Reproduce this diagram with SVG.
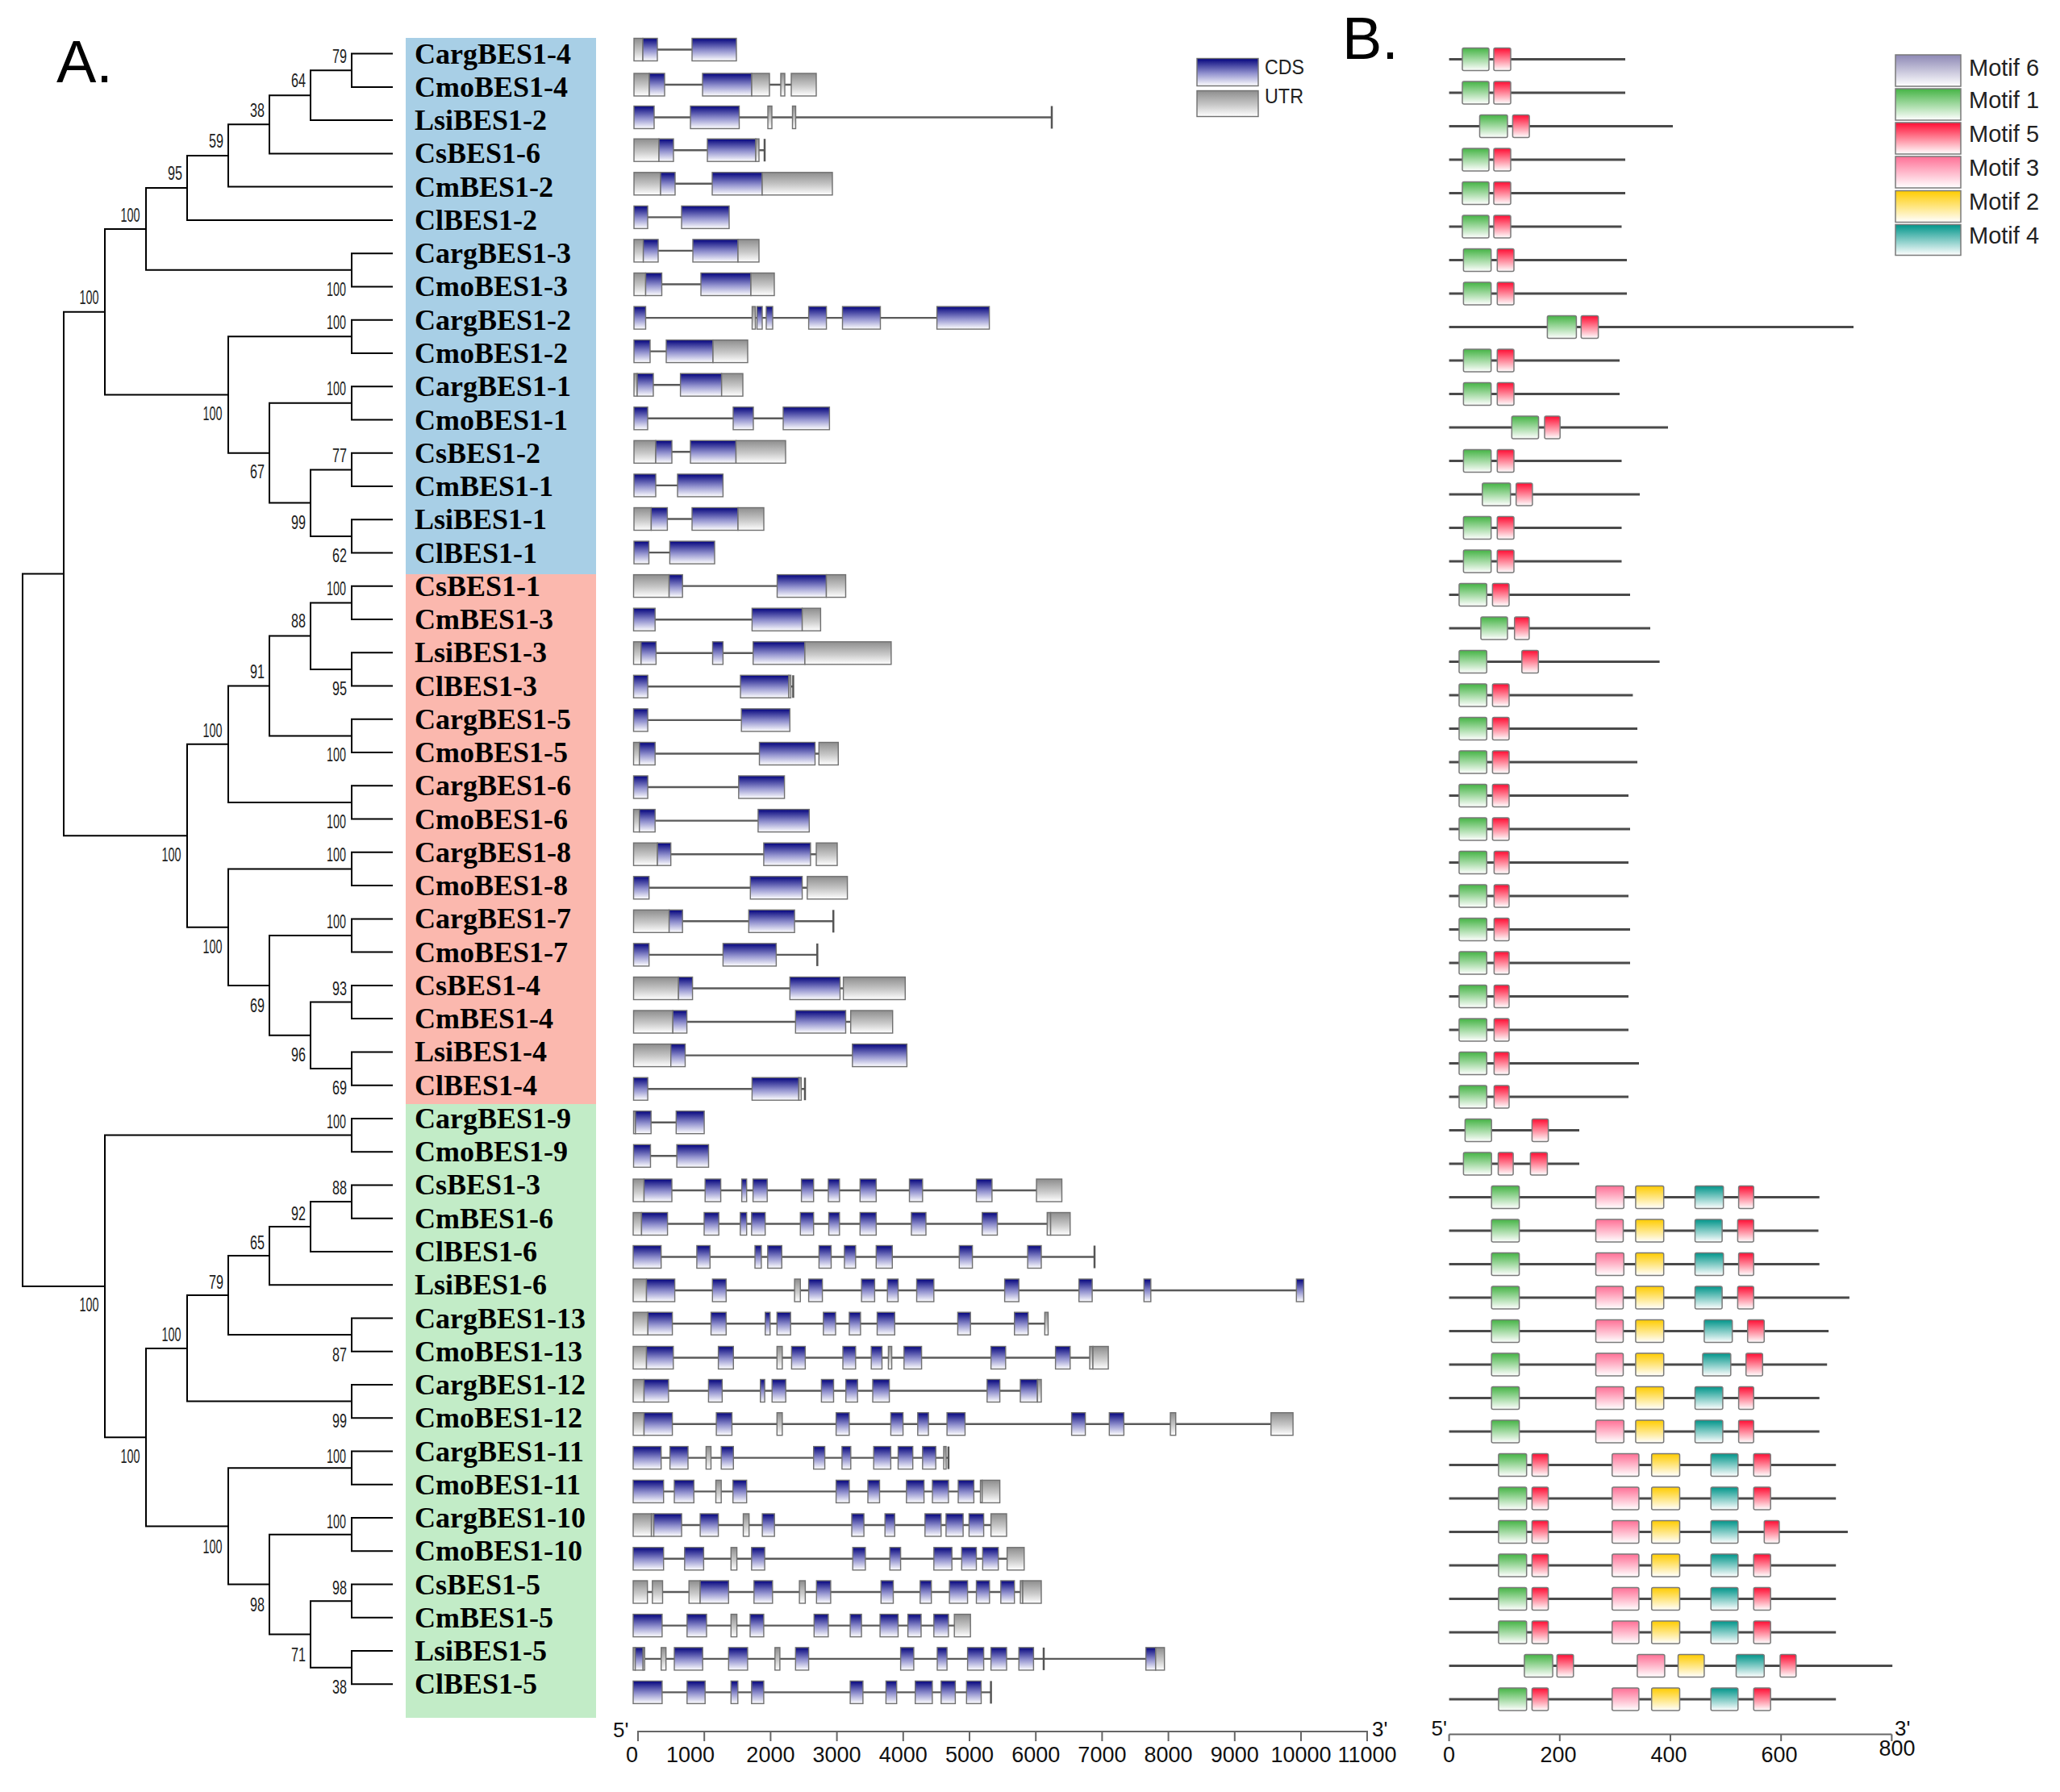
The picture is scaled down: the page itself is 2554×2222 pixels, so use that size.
<svg xmlns="http://www.w3.org/2000/svg" width="2554" height="2222" viewBox="0 0 2554 2222">
<defs>
<linearGradient id="gc" x1="0" y1="0" x2="0" y2="1"><stop offset="0" stop-color="#00007e"/><stop offset="0.12" stop-color="#24248f"/><stop offset="0.55" stop-color="#9393cf"/><stop offset="1" stop-color="#ffffff"/></linearGradient>
<linearGradient id="gu" x1="0" y1="0" x2="0" y2="1"><stop offset="0" stop-color="#8e8e8e"/><stop offset="0.55" stop-color="#c8c8c8"/><stop offset="1" stop-color="#ffffff"/></linearGradient>
<linearGradient id="g6" x1="0" y1="0" x2="0" y2="1"><stop offset="0" stop-color="#8d88b5"/><stop offset="1" stop-color="#ffffff"/></linearGradient>
<linearGradient id="g1" x1="0" y1="0" x2="0" y2="1"><stop offset="0" stop-color="#45b445"/><stop offset="1" stop-color="#ffffff"/></linearGradient>
<linearGradient id="g5" x1="0" y1="0" x2="0" y2="1"><stop offset="0" stop-color="#ff0d33"/><stop offset="1" stop-color="#ffffff"/></linearGradient>
<linearGradient id="g3" x1="0" y1="0" x2="0" y2="1"><stop offset="0" stop-color="#ff7096"/><stop offset="1" stop-color="#ffffff"/></linearGradient>
<linearGradient id="g2" x1="0" y1="0" x2="0" y2="1"><stop offset="0" stop-color="#ffcc00"/><stop offset="1" stop-color="#ffffff"/></linearGradient>
<linearGradient id="g4" x1="0" y1="0" x2="0" y2="1"><stop offset="0" stop-color="#00958a"/><stop offset="1" stop-color="#ffffff"/></linearGradient>
<style>
.tl{font-family:"Liberation Serif","Times New Roman",serif;font-weight:bold;font-size:36px;fill:#000}
.bs{font-family:"Liberation Sans",Arial,sans-serif;font-size:23px;fill:#222;text-anchor:end}
.ax{font-family:"Liberation Sans",Arial,sans-serif;font-size:27px;fill:#111;text-anchor:middle}
.lg{font-family:"Liberation Sans",Arial,sans-serif;font-size:29px;fill:#222}
.pl{font-family:"Liberation Sans",Arial,sans-serif;font-size:74px;fill:#000}
.c{fill:url(#gc);stroke:#707070;stroke-width:1.4}
.u{fill:url(#gu);stroke:#707070;stroke-width:1.4}
.in{stroke:#5a5a5a;stroke-width:2.4}
.tk{stroke:#555;stroke-width:2.5}
.ml{stroke:#4a4a4a;stroke-width:3}
.m1{fill:url(#g1);stroke:#7a7a7a;stroke-width:1.5}
.m5{fill:url(#g5);stroke:#7a7a7a;stroke-width:1.5}
.m3{fill:url(#g3);stroke:#7a7a7a;stroke-width:1.5}
.m2{fill:url(#g2);stroke:#7a7a7a;stroke-width:1.5}
.m4{fill:url(#g4);stroke:#7a7a7a;stroke-width:1.5}
.m6{fill:url(#g6);stroke:#7a7a7a;stroke-width:1.5}
.axl{stroke:#666;stroke-width:2;fill:none}
</style>
</defs>
<rect width="2554" height="2222" fill="#fff"/>
<text class="pl" x="70" y="102">A.</text>
<text class="pl" x="1664" y="73">B.</text>

<g id="clade-backgrounds">
<rect x="503" y="47" width="236" height="665" fill="#a8cfe6"/>
<rect x="503" y="712" width="236" height="657" fill="#fbb8ae"/>
<rect x="503" y="1369" width="236" height="761" fill="#c2ecc7"/>
</g>

<g id="tree-connectors" fill="none" stroke="#000" stroke-width="2">
<path d="M487 66.6H436V107.9H487 M436 87.25H385V149.1H487 M385 118.2H334V190.4H487 M334 154.3H283V231.6H487 M283 193H232V272.9H487 M487 314.2H436V355.4H487 M232 232.9H181V334.8H436 M487 396.7H436V437.9H487 M487 479.2H436V520.5H487 M487 561.7H436V603H487 M487 644.2H436V685.5H487 M436 582.4H385V664.9H436 M436 499.8H334V623.6H385 M436 417.3H283V561.7H334 M181 283.9H130V489.5H283"/>
<path d="M487 726.8H436V768H487 M487 809.3H436V850.5H487 M436 747.4H385V829.9H436 M487 891.8H436V933.1H487 M385 788.6H334V912.4H436 M487 974.3H436V1015.6H487 M334 850.5H283V995H436 M487 1056.8H436V1098.1H487 M487 1139.4H436V1180.6H487 M487 1221.9H436V1263.1H487 M487 1304.4H436V1345.7H487 M436 1242.5H385V1325H436 M436 1160H334V1283.8H385 M436 1077.5H283V1221.9H334 M283 922.7H232V1149.7H283 M130 386.7H79V1036.2H232"/>
<path d="M487 1386.9H436V1428.2H487 M487 1469.4H436V1510.7H487 M436 1490.1H385V1552H487 M385 1521H334V1593.2H487 M487 1634.5H436V1675.7H487 M334 1557.1H283V1655.1H436 M487 1717H436V1758.3H487 M283 1606.1H232V1737.6H436 M487 1799.5H436V1840.8H487 M487 1882H436V1923.3H487 M487 1964.6H436V2005.8H487 M487 2047.1H436V2088.3H487 M436 1985.2H385V2067.7H436 M436 1902.7H334V2026.5H385 M436 1820.2H283V1964.6H334 M232 1671.9H181V1892.4H283 M436 1407.6H130V1782.2H181 M79 711.5H28V1594.9H130"/>
</g>

<g id="bootstrap">
<text class="bs" x="430" y="78" textLength="18" lengthAdjust="spacingAndGlyphs">79</text>
<text class="bs" x="379" y="108" textLength="18" lengthAdjust="spacingAndGlyphs">64</text>
<text class="bs" x="328" y="144.5" textLength="18" lengthAdjust="spacingAndGlyphs">38</text>
<text class="bs" x="277" y="183" textLength="18" lengthAdjust="spacingAndGlyphs">59</text>
<text class="bs" x="226" y="223" textLength="18" lengthAdjust="spacingAndGlyphs">95</text>
<text class="bs" x="173.5" y="275" textLength="24" lengthAdjust="spacingAndGlyphs">100</text>
<text class="bs" x="429" y="367" textLength="24" lengthAdjust="spacingAndGlyphs">100</text>
<text class="bs" x="122.5" y="377" textLength="24" lengthAdjust="spacingAndGlyphs">100</text>
<text class="bs" x="429" y="408" textLength="24" lengthAdjust="spacingAndGlyphs">100</text>
<text class="bs" x="275.5" y="521" textLength="24" lengthAdjust="spacingAndGlyphs">100</text>
<text class="bs" x="429" y="490" textLength="24" lengthAdjust="spacingAndGlyphs">100</text>
<text class="bs" x="430" y="573" textLength="18" lengthAdjust="spacingAndGlyphs">77</text>
<text class="bs" x="328" y="593" textLength="18" lengthAdjust="spacingAndGlyphs">67</text>
<text class="bs" x="379" y="656" textLength="18" lengthAdjust="spacingAndGlyphs">99</text>
<text class="bs" x="430" y="697" textLength="18" lengthAdjust="spacingAndGlyphs">62</text>
<text class="bs" x="429" y="737.5" textLength="24" lengthAdjust="spacingAndGlyphs">100</text>
<text class="bs" x="379" y="778" textLength="18" lengthAdjust="spacingAndGlyphs">88</text>
<text class="bs" x="430" y="861.5" textLength="18" lengthAdjust="spacingAndGlyphs">95</text>
<text class="bs" x="328" y="841" textLength="18" lengthAdjust="spacingAndGlyphs">91</text>
<text class="bs" x="429" y="944" textLength="24" lengthAdjust="spacingAndGlyphs">100</text>
<text class="bs" x="275.5" y="913.5" textLength="24" lengthAdjust="spacingAndGlyphs">100</text>
<text class="bs" x="429" y="1027" textLength="24" lengthAdjust="spacingAndGlyphs">100</text>
<text class="bs" x="429" y="1068" textLength="24" lengthAdjust="spacingAndGlyphs">100</text>
<text class="bs" x="429" y="1151" textLength="24" lengthAdjust="spacingAndGlyphs">100</text>
<text class="bs" x="430" y="1233.5" textLength="18" lengthAdjust="spacingAndGlyphs">93</text>
<text class="bs" x="430" y="1356.5" textLength="18" lengthAdjust="spacingAndGlyphs">69</text>
<text class="bs" x="379" y="1316" textLength="18" lengthAdjust="spacingAndGlyphs">96</text>
<text class="bs" x="328" y="1254.5" textLength="18" lengthAdjust="spacingAndGlyphs">69</text>
<text class="bs" x="275.5" y="1182" textLength="24" lengthAdjust="spacingAndGlyphs">100</text>
<text class="bs" x="224.5" y="1068" textLength="24" lengthAdjust="spacingAndGlyphs">100</text>
<text class="bs" x="429" y="1399" textLength="24" lengthAdjust="spacingAndGlyphs">100</text>
<text class="bs" x="430" y="1481" textLength="18" lengthAdjust="spacingAndGlyphs">88</text>
<text class="bs" x="379" y="1513" textLength="18" lengthAdjust="spacingAndGlyphs">92</text>
<text class="bs" x="328" y="1549" textLength="18" lengthAdjust="spacingAndGlyphs">65</text>
<text class="bs" x="430" y="1688" textLength="18" lengthAdjust="spacingAndGlyphs">87</text>
<text class="bs" x="277" y="1598" textLength="18" lengthAdjust="spacingAndGlyphs">79</text>
<text class="bs" x="430" y="1770" textLength="18" lengthAdjust="spacingAndGlyphs">99</text>
<text class="bs" x="224.5" y="1663" textLength="24" lengthAdjust="spacingAndGlyphs">100</text>
<text class="bs" x="429" y="1814" textLength="24" lengthAdjust="spacingAndGlyphs">100</text>
<text class="bs" x="429" y="1895" textLength="24" lengthAdjust="spacingAndGlyphs">100</text>
<text class="bs" x="430" y="1977" textLength="18" lengthAdjust="spacingAndGlyphs">98</text>
<text class="bs" x="430" y="2100" textLength="18" lengthAdjust="spacingAndGlyphs">38</text>
<text class="bs" x="379" y="2059.5" textLength="18" lengthAdjust="spacingAndGlyphs">71</text>
<text class="bs" x="328" y="1997.5" textLength="18" lengthAdjust="spacingAndGlyphs">98</text>
<text class="bs" x="275.5" y="1926" textLength="24" lengthAdjust="spacingAndGlyphs">100</text>
<text class="bs" x="173.5" y="1814" textLength="24" lengthAdjust="spacingAndGlyphs">100</text>
<text class="bs" x="122.5" y="1626" textLength="24" lengthAdjust="spacingAndGlyphs">100</text>
</g>

<g id="labels">
<g id="label-CargBES1-4"><text class="tl" x="514" y="78.6">CargBES1-4</text></g>
<g id="label-CmoBES1-4"><text class="tl" x="514" y="119.9">CmoBES1-4</text></g>
<g id="label-LsiBES1-2"><text class="tl" x="514" y="161.1">LsiBES1-2</text></g>
<g id="label-CsBES1-6"><text class="tl" x="514" y="202.4">CsBES1-6</text></g>
<g id="label-CmBES1-2"><text class="tl" x="514" y="243.6">CmBES1-2</text></g>
<g id="label-ClBES1-2"><text class="tl" x="514" y="284.9">ClBES1-2</text></g>
<g id="label-CargBES1-3"><text class="tl" x="514" y="326.2">CargBES1-3</text></g>
<g id="label-CmoBES1-3"><text class="tl" x="514" y="367.4">CmoBES1-3</text></g>
<g id="label-CargBES1-2"><text class="tl" x="514" y="408.7">CargBES1-2</text></g>
<g id="label-CmoBES1-2"><text class="tl" x="514" y="449.9">CmoBES1-2</text></g>
<g id="label-CargBES1-1"><text class="tl" x="514" y="491.2">CargBES1-1</text></g>
<g id="label-CmoBES1-1"><text class="tl" x="514" y="532.5">CmoBES1-1</text></g>
<g id="label-CsBES1-2"><text class="tl" x="514" y="573.7">CsBES1-2</text></g>
<g id="label-CmBES1-1"><text class="tl" x="514" y="615">CmBES1-1</text></g>
<g id="label-LsiBES1-1"><text class="tl" x="514" y="656.2">LsiBES1-1</text></g>
<g id="label-ClBES1-1"><text class="tl" x="514" y="697.5">ClBES1-1</text></g>
<g id="label-CsBES1-1"><text class="tl" x="514" y="738.8">CsBES1-1</text></g>
<g id="label-CmBES1-3"><text class="tl" x="514" y="780">CmBES1-3</text></g>
<g id="label-LsiBES1-3"><text class="tl" x="514" y="821.3">LsiBES1-3</text></g>
<g id="label-ClBES1-3"><text class="tl" x="514" y="862.5">ClBES1-3</text></g>
<g id="label-CargBES1-5"><text class="tl" x="514" y="903.8">CargBES1-5</text></g>
<g id="label-CmoBES1-5"><text class="tl" x="514" y="945.1">CmoBES1-5</text></g>
<g id="label-CargBES1-6"><text class="tl" x="514" y="986.3">CargBES1-6</text></g>
<g id="label-CmoBES1-6"><text class="tl" x="514" y="1027.6">CmoBES1-6</text></g>
<g id="label-CargBES1-8"><text class="tl" x="514" y="1068.8">CargBES1-8</text></g>
<g id="label-CmoBES1-8"><text class="tl" x="514" y="1110.1">CmoBES1-8</text></g>
<g id="label-CargBES1-7"><text class="tl" x="514" y="1151.4">CargBES1-7</text></g>
<g id="label-CmoBES1-7"><text class="tl" x="514" y="1192.6">CmoBES1-7</text></g>
<g id="label-CsBES1-4"><text class="tl" x="514" y="1233.9">CsBES1-4</text></g>
<g id="label-CmBES1-4"><text class="tl" x="514" y="1275.1">CmBES1-4</text></g>
<g id="label-LsiBES1-4"><text class="tl" x="514" y="1316.4">LsiBES1-4</text></g>
<g id="label-ClBES1-4"><text class="tl" x="514" y="1357.7">ClBES1-4</text></g>
<g id="label-CargBES1-9"><text class="tl" x="514" y="1398.9">CargBES1-9</text></g>
<g id="label-CmoBES1-9"><text class="tl" x="514" y="1440.2">CmoBES1-9</text></g>
<g id="label-CsBES1-3"><text class="tl" x="514" y="1481.4">CsBES1-3</text></g>
<g id="label-CmBES1-6"><text class="tl" x="514" y="1522.7">CmBES1-6</text></g>
<g id="label-ClBES1-6"><text class="tl" x="514" y="1564">ClBES1-6</text></g>
<g id="label-LsiBES1-6"><text class="tl" x="514" y="1605.2">LsiBES1-6</text></g>
<g id="label-CargBES1-13"><text class="tl" x="514" y="1646.5">CargBES1-13</text></g>
<g id="label-CmoBES1-13"><text class="tl" x="514" y="1687.7">CmoBES1-13</text></g>
<g id="label-CargBES1-12"><text class="tl" x="514" y="1729">CargBES1-12</text></g>
<g id="label-CmoBES1-12"><text class="tl" x="514" y="1770.3">CmoBES1-12</text></g>
<g id="label-CargBES1-11"><text class="tl" x="514" y="1811.5">CargBES1-11</text></g>
<g id="label-CmoBES1-11"><text class="tl" x="514" y="1852.8">CmoBES1-11</text></g>
<g id="label-CargBES1-10"><text class="tl" x="514" y="1894">CargBES1-10</text></g>
<g id="label-CmoBES1-10"><text class="tl" x="514" y="1935.3">CmoBES1-10</text></g>
<g id="label-CsBES1-5"><text class="tl" x="514" y="1976.6">CsBES1-5</text></g>
<g id="label-CmBES1-5"><text class="tl" x="514" y="2017.8">CmBES1-5</text></g>
<g id="label-LsiBES1-5"><text class="tl" x="514" y="2059.1">LsiBES1-5</text></g>
<g id="label-ClBES1-5"><text class="tl" x="514" y="2100.3">ClBES1-5</text></g>
</g>

<g id="gene-structures">
<g id="gene-CargBES1-4" transform="translate(0,61.5)"><line class="in" x1="786" x2="913"/><rect class="u" x="786" y="-14" width="11" height="28"/><rect class="c" x="797" y="-14" width="18" height="28"/><rect class="c" x="858" y="-14" width="55" height="28"/></g>
<g id="gene-CmoBES1-4" transform="translate(0,105)"><line class="in" x1="786" x2="1012"/><rect class="u" x="786" y="-14" width="19" height="28"/><rect class="c" x="805" y="-14" width="19" height="28"/><rect class="c" x="871" y="-14" width="61" height="28"/><rect class="u" x="932" y="-14" width="22" height="28"/><rect class="u" x="968" y="-14" width="5" height="28"/><rect class="u" x="981" y="-14" width="31" height="28"/></g>
<g id="gene-LsiBES1-2" transform="translate(0,145.5)"><line class="in" x1="786" x2="1304"/><rect class="c" x="786" y="-14" width="25" height="28"/><rect class="c" x="856" y="-14" width="60.5" height="28"/><rect class="u" x="952" y="-14" width="5" height="28"/><rect class="u" x="982.5" y="-14" width="4" height="28"/><line class="tk" x1="1304" x2="1304" y1="-14" y2="14"/></g>
<g id="gene-CsBES1-6" transform="translate(0,186.2)"><line class="in" x1="786" x2="948"/><rect class="u" x="786" y="-14" width="31" height="28"/><rect class="c" x="817" y="-14" width="18" height="28"/><rect class="c" x="877" y="-14" width="60" height="28"/><rect class="u" x="937" y="-14" width="4" height="28"/><line class="tk" x1="948" x2="948" y1="-14" y2="14"/></g>
<g id="gene-CmBES1-2" transform="translate(0,227.8)"><line class="in" x1="786" x2="1032"/><rect class="u" x="786" y="-14" width="33" height="28"/><rect class="c" x="819" y="-14" width="18" height="28"/><rect class="c" x="883" y="-14" width="62" height="28"/><rect class="u" x="945" y="-14" width="87" height="28"/></g>
<g id="gene-ClBES1-2" transform="translate(0,269.4)"><line class="in" x1="786" x2="904"/><rect class="c" x="786" y="-14" width="17" height="28"/><rect class="c" x="845" y="-14" width="59" height="28"/></g>
<g id="gene-CargBES1-3" transform="translate(0,310.9)"><line class="in" x1="786" x2="941"/><rect class="u" x="786" y="-14" width="11.6" height="28"/><rect class="c" x="797.6" y="-14" width="18.4" height="28"/><rect class="c" x="859" y="-14" width="56" height="28"/><rect class="u" x="915" y="-14" width="26" height="28"/></g>
<g id="gene-CmoBES1-3" transform="translate(0,352.5)"><line class="in" x1="786" x2="960"/><rect class="u" x="786" y="-14" width="14.5" height="28"/><rect class="c" x="800.5" y="-14" width="20" height="28"/><rect class="c" x="869" y="-14" width="62" height="28"/><rect class="u" x="931" y="-14" width="29" height="28"/></g>
<g id="gene-CargBES1-2" transform="translate(0,394.1)"><line class="in" x1="786" x2="1226.5"/><rect class="c" x="786" y="-14" width="14.5" height="28"/><rect class="u" x="932.5" y="-14" width="4" height="28"/><rect class="c" x="938.5" y="-14" width="6.5" height="28"/><rect class="c" x="950" y="-14" width="8" height="28"/><rect class="c" x="1002.6" y="-14" width="22" height="28"/><rect class="c" x="1044.5" y="-14" width="47" height="28"/><rect class="c" x="1161.6" y="-14" width="65" height="28"/></g>
<g id="gene-CmoBES1-2" transform="translate(0,435.6)"><line class="in" x1="786" x2="927"/><rect class="c" x="786" y="-14" width="20" height="28"/><rect class="c" x="826" y="-14" width="58" height="28"/><rect class="u" x="884" y="-14" width="43" height="28"/></g>
<g id="gene-CargBES1-1" transform="translate(0,477.2)"><line class="in" x1="786" x2="921"/><rect class="u" x="786" y="-14" width="4" height="28"/><rect class="c" x="790" y="-14" width="20" height="28"/><rect class="c" x="843.6" y="-14" width="51" height="28"/><rect class="u" x="894.7" y="-14" width="26.3" height="28"/></g>
<g id="gene-CmoBES1-1" transform="translate(0,518.8)"><line class="in" x1="786" x2="1028.4"/><rect class="c" x="786" y="-14" width="17" height="28"/><rect class="c" x="909" y="-14" width="25" height="28"/><rect class="c" x="971" y="-14" width="57.4" height="28"/></g>
<g id="gene-CsBES1-2" transform="translate(0,560.3)"><line class="in" x1="786" x2="974"/><rect class="u" x="786" y="-14" width="27" height="28"/><rect class="c" x="813" y="-14" width="20" height="28"/><rect class="c" x="856" y="-14" width="56.5" height="28"/><rect class="u" x="912.5" y="-14" width="61.5" height="28"/></g>
<g id="gene-CmBES1-1" transform="translate(0,601.9)"><line class="in" x1="786" x2="896.4"/><rect class="c" x="786" y="-14" width="27" height="28"/><rect class="c" x="840" y="-14" width="56.4" height="28"/></g>
<g id="gene-LsiBES1-1" transform="translate(0,643.5)"><line class="in" x1="786" x2="947"/><rect class="u" x="786" y="-14" width="21.4" height="28"/><rect class="c" x="807.4" y="-14" width="20" height="28"/><rect class="c" x="858" y="-14" width="57" height="28"/><rect class="u" x="915" y="-14" width="32" height="28"/></g>
<g id="gene-ClBES1-1" transform="translate(0,685.1)"><line class="in" x1="786" x2="886"/><rect class="c" x="786" y="-14" width="18.5" height="28"/><rect class="c" x="830.4" y="-14" width="55.6" height="28"/></g>
<g id="gene-CsBES1-1" transform="translate(0,726.6)"><line class="in" x1="785.5" x2="1048.5"/><rect class="u" x="785.5" y="-14" width="44" height="28"/><rect class="c" x="829.6" y="-14" width="16.6" height="28"/><rect class="c" x="963.5" y="-14" width="61" height="28"/><rect class="u" x="1024.5" y="-14" width="24" height="28"/></g>
<g id="gene-CmBES1-3" transform="translate(0,768.2)"><line class="in" x1="785.5" x2="1017.4"/><rect class="c" x="785.5" y="-14" width="26.7" height="28"/><rect class="c" x="932.4" y="-14" width="62.2" height="28"/><rect class="u" x="994.6" y="-14" width="22.8" height="28"/></g>
<g id="gene-LsiBES1-3" transform="translate(0,809.8)"><line class="in" x1="785.5" x2="1104.9"/><rect class="u" x="785.5" y="-14" width="9.3" height="28"/><rect class="c" x="794.8" y="-14" width="18.6" height="28"/><rect class="c" x="883.5" y="-14" width="12.9" height="28"/><rect class="c" x="933.7" y="-14" width="64.2" height="28"/><rect class="u" x="997.9" y="-14" width="107" height="28"/></g>
<g id="gene-ClBES1-3" transform="translate(0,851.3)"><line class="in" x1="785.5" x2="983.4"/><rect class="c" x="785.5" y="-14" width="17.6" height="28"/><rect class="c" x="918" y="-14" width="60" height="28"/><rect class="u" x="978" y="-14" width="2.5" height="28"/><line class="tk" x1="983.4" x2="983.4" y1="-14" y2="14"/></g>
<g id="gene-CargBES1-5" transform="translate(0,892.9)"><line class="in" x1="785.5" x2="979.3"/><rect class="c" x="785.5" y="-14" width="17.6" height="28"/><rect class="c" x="919.2" y="-14" width="60.1" height="28"/></g>
<g id="gene-CmoBES1-5" transform="translate(0,934.5)"><line class="in" x1="785.5" x2="1039.4"/><rect class="u" x="785.5" y="-14" width="7.2" height="28"/><rect class="c" x="792.7" y="-14" width="19.5" height="28"/><rect class="c" x="941.5" y="-14" width="69" height="28"/><rect class="u" x="1015.3" y="-14" width="24" height="28"/></g>
<g id="gene-CargBES1-6" transform="translate(0,976)"><line class="in" x1="785.5" x2="972.6"/><rect class="c" x="785.5" y="-14" width="17.6" height="28"/><rect class="c" x="915.8" y="-14" width="56.8" height="28"/></g>
<g id="gene-CmoBES1-6" transform="translate(0,1017.6)"><line class="in" x1="785.5" x2="1003.3"/><rect class="u" x="785.5" y="-14" width="7.2" height="28"/><rect class="c" x="792.7" y="-14" width="19.5" height="28"/><rect class="c" x="939.9" y="-14" width="63.4" height="28"/></g>
<g id="gene-CargBES1-8" transform="translate(0,1059.2)"><line class="in" x1="785.5" x2="1038"/><rect class="u" x="785.5" y="-14" width="29.6" height="28"/><rect class="c" x="815.1" y="-14" width="16.6" height="28"/><rect class="c" x="946.9" y="-14" width="58" height="28"/><rect class="u" x="1012" y="-14" width="26" height="28"/></g>
<g id="gene-CmoBES1-8" transform="translate(0,1100.8)"><line class="in" x1="785.5" x2="1050.6"/><rect class="c" x="785.5" y="-14" width="19.2" height="28"/><rect class="c" x="930.3" y="-14" width="64.3" height="28"/><rect class="u" x="1000.8" y="-14" width="49.8" height="28"/></g>
<g id="gene-CargBES1-7" transform="translate(0,1142.3)"><line class="in" x1="785.5" x2="1033.2"/><rect class="u" x="785.5" y="-14" width="44.1" height="28"/><rect class="c" x="829.6" y="-14" width="16.6" height="28"/><rect class="c" x="928.3" y="-14" width="56.8" height="28"/><line class="tk" x1="1033.2" x2="1033.2" y1="-14" y2="14"/></g>
<g id="gene-CmoBES1-7" transform="translate(0,1183.9)"><line class="in" x1="785.5" x2="1013.3"/><rect class="c" x="785.5" y="-14" width="19.2" height="28"/><rect class="c" x="896.4" y="-14" width="66" height="28"/><line class="tk" x1="1013.3" x2="1013.3" y1="-14" y2="14"/></g>
<g id="gene-CsBES1-4" transform="translate(0,1225.5)"><line class="in" x1="785.5" x2="1122.3"/><rect class="u" x="785.5" y="-14" width="55.7" height="28"/><rect class="c" x="841.2" y="-14" width="17.4" height="28"/><rect class="c" x="979.3" y="-14" width="62.2" height="28"/><rect class="u" x="1045.6" y="-14" width="76.7" height="28"/></g>
<g id="gene-CmBES1-4" transform="translate(0,1267)"><line class="in" x1="785.5" x2="1106.6"/><rect class="u" x="785.5" y="-14" width="48.7" height="28"/><rect class="c" x="834.2" y="-14" width="17.4" height="28"/><rect class="c" x="986.3" y="-14" width="62.2" height="28"/><rect class="u" x="1054.7" y="-14" width="52" height="28"/></g>
<g id="gene-LsiBES1-4" transform="translate(0,1308.6)"><line class="in" x1="785.5" x2="1124.4"/><rect class="u" x="785.5" y="-14" width="46.2" height="28"/><rect class="c" x="831.7" y="-14" width="17.8" height="28"/><rect class="c" x="1056.8" y="-14" width="67.6" height="28"/></g>
<g id="gene-ClBES1-4" transform="translate(0,1350.2)"><line class="in" x1="785.5" x2="998"/><rect class="c" x="785.5" y="-14" width="17.6" height="28"/><rect class="c" x="932.4" y="-14" width="58" height="28"/><rect class="u" x="990.4" y="-14" width="3" height="28"/><line class="tk" x1="998" x2="998" y1="-14" y2="14"/></g>
<g id="gene-CargBES1-9" transform="translate(0,1391.7)"><line class="in" x1="785.5" x2="873"/><rect class="u" x="785.5" y="-14" width="2.3" height="28"/><rect class="c" x="787.8" y="-14" width="19.4" height="28"/><rect class="c" x="838.3" y="-14" width="34.8" height="28"/></g>
<g id="gene-CmoBES1-9" transform="translate(0,1433.3)"><line class="in" x1="785.5" x2="878.5"/><rect class="c" x="785.5" y="-14" width="21" height="28"/><rect class="c" x="839.1" y="-14" width="39.4" height="28"/></g>
<g id="gene-CsBES1-3" transform="translate(0,1476)"><line class="in" x1="785" x2="1316.5"/><rect class="u" x="785" y="-14" width="13.5" height="28"/><rect class="c" x="798.5" y="-14" width="34.5" height="28"/><rect class="c" x="874.2" y="-14" width="19.4" height="28"/><rect class="c" x="919.6" y="-14" width="6.1" height="28"/><rect class="c" x="933.6" y="-14" width="17.6" height="28"/><rect class="c" x="993.6" y="-14" width="15.1" height="28"/><rect class="c" x="1026.9" y="-14" width="13.9" height="28"/><rect class="c" x="1066.3" y="-14" width="20" height="28"/><rect class="c" x="1127.5" y="-14" width="16.3" height="28"/><rect class="c" x="1210.5" y="-14" width="19.4" height="28"/><rect class="u" x="1285" y="-14" width="31.5" height="28"/></g>
<g id="gene-CmBES1-6" transform="translate(0,1517.5)"><line class="in" x1="785" x2="1326.8"/><rect class="u" x="785" y="-14" width="10.4" height="28"/><rect class="c" x="795.4" y="-14" width="32.2" height="28"/><rect class="c" x="873" y="-14" width="18.2" height="28"/><rect class="c" x="917.8" y="-14" width="7.9" height="28"/><rect class="c" x="931.8" y="-14" width="16.9" height="28"/><rect class="c" x="992.3" y="-14" width="16.4" height="28"/><rect class="c" x="1027.5" y="-14" width="13.3" height="28"/><rect class="c" x="1066.3" y="-14" width="20" height="28"/><rect class="c" x="1129.9" y="-14" width="18.1" height="28"/><rect class="c" x="1217.7" y="-14" width="18.8" height="28"/><rect class="u" x="1298.3" y="-14" width="4.3" height="28"/><rect class="u" x="1302.6" y="-14" width="24.2" height="28"/></g>
<g id="gene-ClBES1-6" transform="translate(0,1558.5)"><line class="in" x1="785" x2="1357"/><rect class="c" x="785" y="-14" width="34.7" height="28"/><rect class="c" x="863.9" y="-14" width="16.4" height="28"/><rect class="c" x="936" y="-14" width="7.9" height="28"/><rect class="c" x="951.8" y="-14" width="17.5" height="28"/><rect class="c" x="1015.4" y="-14" width="15.1" height="28"/><rect class="c" x="1046.9" y="-14" width="13.9" height="28"/><rect class="c" x="1086.3" y="-14" width="20" height="28"/><rect class="c" x="1189.3" y="-14" width="16.3" height="28"/><rect class="c" x="1274.1" y="-14" width="16.9" height="28"/><line class="tk" x1="1357" x2="1357" y1="-14" y2="14"/></g>
<g id="gene-LsiBES1-6" transform="translate(0,1600)"><line class="in" x1="785" x2="1616.4"/><rect class="u" x="785" y="-14" width="16.5" height="28"/><rect class="c" x="801.5" y="-14" width="35.1" height="28"/><rect class="c" x="883.3" y="-14" width="17" height="28"/><rect class="u" x="985.1" y="-14" width="7.2" height="28"/><rect class="c" x="1002.6" y="-14" width="17" height="28"/><rect class="c" x="1068.1" y="-14" width="16.3" height="28"/><rect class="c" x="1100.2" y="-14" width="13.3" height="28"/><rect class="c" x="1136.5" y="-14" width="21.3" height="28"/><rect class="c" x="1245.6" y="-14" width="17.6" height="28"/><rect class="c" x="1337.7" y="-14" width="16.4" height="28"/><rect class="c" x="1418.3" y="-14" width="8.5" height="28"/><rect class="c" x="1607.3" y="-14" width="9.1" height="28"/></g>
<g id="gene-CargBES1-13" transform="translate(0,1641.2)"><line class="in" x1="785" x2="1299.5"/><rect class="u" x="785" y="-14" width="18.3" height="28"/><rect class="c" x="803.3" y="-14" width="30.3" height="28"/><rect class="c" x="881.5" y="-14" width="18.8" height="28"/><rect class="c" x="948.7" y="-14" width="6.1" height="28"/><rect class="c" x="963.3" y="-14" width="16.9" height="28"/><rect class="c" x="1020.8" y="-14" width="15.2" height="28"/><rect class="c" x="1052.9" y="-14" width="14" height="28"/><rect class="c" x="1087.5" y="-14" width="21.8" height="28"/><rect class="c" x="1187.4" y="-14" width="15.8" height="28"/><rect class="c" x="1257.7" y="-14" width="17" height="28"/><rect class="u" x="1295.3" y="-14" width="4.2" height="28"/></g>
<g id="gene-CmoBES1-13" transform="translate(0,1683.5)"><line class="in" x1="785" x2="1374.1"/><rect class="u" x="785" y="-14" width="16.5" height="28"/><rect class="c" x="801.5" y="-14" width="33.3" height="28"/><rect class="c" x="890.6" y="-14" width="18.7" height="28"/><rect class="u" x="963.3" y="-14" width="6.6" height="28"/><rect class="c" x="981.4" y="-14" width="17" height="28"/><rect class="c" x="1045" y="-14" width="15.8" height="28"/><rect class="c" x="1080.2" y="-14" width="13.3" height="28"/><rect class="u" x="1101.4" y="-14" width="4.2" height="28"/><rect class="c" x="1120.8" y="-14" width="21.8" height="28"/><rect class="c" x="1228.6" y="-14" width="18.2" height="28"/><rect class="c" x="1308.6" y="-14" width="18.2" height="28"/><rect class="u" x="1351" y="-14" width="4" height="28"/><rect class="u" x="1355" y="-14" width="19.1" height="28"/></g>
<g id="gene-CargBES1-12" transform="translate(0,1724.5)"><line class="in" x1="785" x2="1291"/><rect class="u" x="785" y="-14" width="13.5" height="28"/><rect class="c" x="798.5" y="-14" width="30.3" height="28"/><rect class="c" x="878.4" y="-14" width="17" height="28"/><rect class="c" x="942.7" y="-14" width="5.4" height="28"/><rect class="c" x="957.2" y="-14" width="17" height="28"/><rect class="c" x="1018.4" y="-14" width="15.1" height="28"/><rect class="c" x="1048.7" y="-14" width="14.5" height="28"/><rect class="c" x="1082" y="-14" width="20.6" height="28"/><rect class="c" x="1223.8" y="-14" width="15.8" height="28"/><rect class="c" x="1265" y="-14" width="21.2" height="28"/><rect class="u" x="1286.2" y="-14" width="4.8" height="28"/></g>
<g id="gene-CmoBES1-12" transform="translate(0,1765.7)"><line class="in" x1="785" x2="1603.1"/><rect class="u" x="785" y="-14" width="13.5" height="28"/><rect class="c" x="798.5" y="-14" width="35.1" height="28"/><rect class="c" x="888.1" y="-14" width="19.4" height="28"/><rect class="u" x="963.3" y="-14" width="6.6" height="28"/><rect class="c" x="1036.6" y="-14" width="16.3" height="28"/><rect class="c" x="1104.4" y="-14" width="15.2" height="28"/><rect class="c" x="1137.8" y="-14" width="13.3" height="28"/><rect class="c" x="1174.1" y="-14" width="22.4" height="28"/><rect class="c" x="1328.6" y="-14" width="17" height="28"/><rect class="c" x="1375.3" y="-14" width="18.1" height="28"/><rect class="u" x="1451" y="-14" width="6.7" height="28"/><rect class="u" x="1575.8" y="-14" width="27.3" height="28"/></g>
<g id="gene-CargBES1-11" transform="translate(0,1807.6)"><line class="in" x1="785" x2="1175.9"/><rect class="c" x="785" y="-14" width="34.7" height="28"/><rect class="c" x="830.6" y="-14" width="22.4" height="28"/><rect class="u" x="875.4" y="-14" width="6.1" height="28"/><rect class="c" x="894.2" y="-14" width="15.1" height="28"/><rect class="c" x="1008.7" y="-14" width="13.9" height="28"/><rect class="c" x="1043.9" y="-14" width="10.9" height="28"/><rect class="c" x="1083.2" y="-14" width="21.2" height="28"/><rect class="c" x="1113.5" y="-14" width="18.2" height="28"/><rect class="c" x="1143.8" y="-14" width="16.4" height="28"/><rect class="u" x="1170" y="-14" width="3" height="28"/><line class="tk" x1="1175.9" x2="1175.9" y1="-14" y2="14"/></g>
<g id="gene-CmoBES1-11" transform="translate(0,1849.4)"><line class="in" x1="785" x2="1239.6"/><rect class="c" x="785" y="-14" width="37.7" height="28"/><rect class="c" x="836" y="-14" width="24.3" height="28"/><rect class="u" x="887.5" y="-14" width="6.7" height="28"/><rect class="c" x="908.7" y="-14" width="17" height="28"/><rect class="c" x="1036.6" y="-14" width="16.3" height="28"/><rect class="c" x="1076" y="-14" width="14.5" height="28"/><rect class="c" x="1123.8" y="-14" width="21.8" height="28"/><rect class="c" x="1156" y="-14" width="19.9" height="28"/><rect class="c" x="1188" y="-14" width="19.4" height="28"/><rect class="u" x="1215.5" y="-14" width="2.2" height="28"/><rect class="u" x="1217.7" y="-14" width="21.9" height="28"/></g>
<g id="gene-CargBES1-10" transform="translate(0,1891)"><line class="in" x1="785" x2="1248"/><rect class="u" x="785" y="-14" width="22.6" height="28"/><rect class="u" x="807.6" y="-14" width="3" height="28"/><rect class="c" x="810.6" y="-14" width="34.5" height="28"/><rect class="c" x="868.1" y="-14" width="22.5" height="28"/><rect class="u" x="921.5" y="-14" width="7.2" height="28"/><rect class="c" x="945.1" y="-14" width="15.1" height="28"/><rect class="c" x="1056" y="-14" width="15.1" height="28"/><rect class="c" x="1097.2" y="-14" width="12.1" height="28"/><rect class="c" x="1146.8" y="-14" width="20" height="28"/><rect class="c" x="1172.9" y="-14" width="21.2" height="28"/><rect class="c" x="1201.4" y="-14" width="18.2" height="28"/><rect class="u" x="1228.6" y="-14" width="19.4" height="28"/></g>
<g id="gene-CmoBES1-10" transform="translate(0,1932.8)"><line class="in" x1="785" x2="1269.8"/><rect class="c" x="785" y="-14" width="37.7" height="28"/><rect class="c" x="848.8" y="-14" width="23.6" height="28"/><rect class="u" x="906.3" y="-14" width="7.3" height="28"/><rect class="c" x="931.8" y="-14" width="16.3" height="28"/><rect class="c" x="1057.2" y="-14" width="15.7" height="28"/><rect class="c" x="1103.2" y="-14" width="13.4" height="28"/><rect class="c" x="1157.8" y="-14" width="22.4" height="28"/><rect class="c" x="1192.3" y="-14" width="18.2" height="28"/><rect class="c" x="1218.3" y="-14" width="19.4" height="28"/><rect class="u" x="1248.6" y="-14" width="21.2" height="28"/></g>
<g id="gene-CsBES1-5" transform="translate(0,1974)"><line class="in" x1="785" x2="1291"/><rect class="u" x="785" y="-14" width="17.7" height="28"/><rect class="u" x="808.8" y="-14" width="12.7" height="28"/><rect class="u" x="854.2" y="-14" width="13.9" height="28"/><rect class="c" x="868.1" y="-14" width="35.2" height="28"/><rect class="c" x="934.8" y="-14" width="23" height="28"/><rect class="u" x="991.1" y="-14" width="7.3" height="28"/><rect class="c" x="1012.3" y="-14" width="17.6" height="28"/><rect class="c" x="1092.3" y="-14" width="15.2" height="28"/><rect class="c" x="1140.8" y="-14" width="13.9" height="28"/><rect class="c" x="1177.1" y="-14" width="22.5" height="28"/><rect class="c" x="1210.5" y="-14" width="16.3" height="28"/><rect class="c" x="1240.8" y="-14" width="16.9" height="28"/><rect class="u" x="1265" y="-14" width="3" height="28"/><rect class="u" x="1268" y="-14" width="23" height="28"/></g>
<g id="gene-CmBES1-5" transform="translate(0,2015.6)"><line class="in" x1="785" x2="1203.2"/><rect class="c" x="785" y="-14" width="35.9" height="28"/><rect class="c" x="851.8" y="-14" width="24.2" height="28"/><rect class="u" x="906.3" y="-14" width="7.3" height="28"/><rect class="c" x="930" y="-14" width="16.9" height="28"/><rect class="c" x="1009.3" y="-14" width="17.6" height="28"/><rect class="c" x="1054.1" y="-14" width="14" height="28"/><rect class="c" x="1091.1" y="-14" width="22.4" height="28"/><rect class="c" x="1125.6" y="-14" width="16.4" height="28"/><rect class="c" x="1157.8" y="-14" width="18.1" height="28"/><rect class="u" x="1183.2" y="-14" width="20" height="28"/></g>
<g id="gene-LsiBES1-5" transform="translate(0,2056.9)"><line class="in" x1="785" x2="1443.7"/><rect class="u" x="785" y="-14" width="2.6" height="28"/><rect class="c" x="787.6" y="-14" width="9.7" height="28"/><rect class="u" x="797.3" y="-14" width="2" height="28"/><rect class="u" x="819.7" y="-14" width="6" height="28"/><rect class="c" x="836" y="-14" width="35.2" height="28"/><rect class="c" x="903.3" y="-14" width="23.6" height="28"/><rect class="u" x="960.8" y="-14" width="6.1" height="28"/><rect class="c" x="986.3" y="-14" width="16.3" height="28"/><rect class="c" x="1116.6" y="-14" width="16.3" height="28"/><rect class="c" x="1162" y="-14" width="12.1" height="28"/><rect class="c" x="1199.6" y="-14" width="20" height="28"/><rect class="c" x="1228.6" y="-14" width="19.4" height="28"/><rect class="c" x="1263.2" y="-14" width="18.2" height="28"/><line class="tk" x1="1294" x2="1294" y1="-14" y2="14"/><rect class="c" x="1420.7" y="-14" width="12.1" height="28"/><rect class="u" x="1432.8" y="-14" width="10.9" height="28"/></g>
<g id="gene-ClBES1-5" transform="translate(0,2098.4)"><line class="in" x1="785" x2="1228.6"/><rect class="c" x="785" y="-14" width="35.9" height="28"/><rect class="c" x="851.8" y="-14" width="22.4" height="28"/><rect class="c" x="906.3" y="-14" width="8.5" height="28"/><rect class="c" x="931.8" y="-14" width="15.1" height="28"/><rect class="c" x="1054.1" y="-14" width="15.8" height="28"/><rect class="c" x="1098.4" y="-14" width="13.3" height="28"/><rect class="c" x="1134.7" y="-14" width="21.2" height="28"/><rect class="c" x="1166.8" y="-14" width="17.6" height="28"/><rect class="c" x="1198.3" y="-14" width="18.2" height="28"/><line class="tk" x1="1228.6" x2="1228.6" y1="-14" y2="14"/></g>
</g>

<g id="gene-legend">
<rect class="c" x="1484" y="72.5" width="76" height="34"/>
<rect class="u" x="1484" y="112.5" width="76" height="32"/>
<text class="lg" x="1568" y="92" textLength="49" lengthAdjust="spacingAndGlyphs" style="font-size:25px">CDS</text>
<text class="lg" x="1568" y="128" textLength="48" lengthAdjust="spacingAndGlyphs" style="font-size:25px">UTR</text>
</g>

<g id="gene-axis">
<path class="axl" d="M791 2159V2147H1695V2159 M873.2 2147V2159 M955.4 2147V2159 M1037.6 2147V2159 M1119.8 2147V2159 M1202 2147V2159 M1284.2 2147V2159 M1366.4 2147V2159 M1448.6 2147V2159 M1530.8 2147V2159 M1613 2147V2159"/>
<text class="ax" x="760" y="2154" style="text-anchor:start;font-size:26px">5'</text>
<text class="ax" x="1701" y="2153" style="text-anchor:start;font-size:26px">3'</text>
<text class="ax" x="791" y="2185" style="text-anchor:end">0</text>
<text class="ax" x="856" y="2185">1000</text>
<text class="ax" x="955.4" y="2185">2000</text>
<text class="ax" x="1037.6" y="2185">3000</text>
<text class="ax" x="1119.8" y="2185">4000</text>
<text class="ax" x="1202" y="2185">5000</text>
<text class="ax" x="1284.2" y="2185">6000</text>
<text class="ax" x="1366.4" y="2185">7000</text>
<text class="ax" x="1448.6" y="2185">8000</text>
<text class="ax" x="1530.8" y="2185">9000</text>
<text class="ax" x="1613" y="2185">10000</text>
<text class="ax" x="1695" y="2185">11000</text>
</g>

<g id="motif-structures">
<g id="motif-CargBES1-4" transform="translate(0,73.5)"><line class="ml" x1="1796.6" x2="2015"/><rect class="m1" x="1813" y="-14" width="33" height="28" rx="2"/><rect class="m5" x="1852" y="-14" width="21" height="28" rx="2"/></g>
<g id="motif-CmoBES1-4" transform="translate(0,115)"><line class="ml" x1="1796.6" x2="2015"/><rect class="m1" x="1813" y="-14" width="33" height="28" rx="2"/><rect class="m5" x="1852" y="-14" width="21" height="28" rx="2"/></g>
<g id="motif-LsiBES1-2" transform="translate(0,156.5)"><line class="ml" x1="1796.6" x2="2074"/><rect class="m1" x="1834.5" y="-14" width="34.5" height="28" rx="2"/><rect class="m5" x="1875.4" y="-14" width="20.7" height="28" rx="2"/></g>
<g id="motif-CsBES1-6" transform="translate(0,198)"><line class="ml" x1="1796.6" x2="2015"/><rect class="m1" x="1813" y="-14" width="33" height="28" rx="2"/><rect class="m5" x="1852" y="-14" width="21" height="28" rx="2"/></g>
<g id="motif-CmBES1-2" transform="translate(0,239.5)"><line class="ml" x1="1796.6" x2="2015"/><rect class="m1" x="1813" y="-14" width="33" height="28" rx="2"/><rect class="m5" x="1852" y="-14" width="21" height="28" rx="2"/></g>
<g id="motif-ClBES1-2" transform="translate(0,281)"><line class="ml" x1="1796.6" x2="2010.5"/><rect class="m1" x="1813" y="-14" width="33" height="28" rx="2"/><rect class="m5" x="1852" y="-14" width="21" height="28" rx="2"/></g>
<g id="motif-CargBES1-3" transform="translate(0,322.5)"><line class="ml" x1="1796.6" x2="2017"/><rect class="m1" x="1814.4" y="-14" width="34.3" height="28" rx="2"/><rect class="m5" x="1856.3" y="-14" width="20.7" height="28" rx="2"/></g>
<g id="motif-CmoBES1-3" transform="translate(0,364)"><line class="ml" x1="1796.6" x2="2017"/><rect class="m1" x="1814.4" y="-14" width="34.3" height="28" rx="2"/><rect class="m5" x="1856.3" y="-14" width="20.7" height="28" rx="2"/></g>
<g id="motif-CargBES1-2" transform="translate(0,405.5)"><line class="ml" x1="1796.6" x2="2298"/><rect class="m1" x="1918.4" y="-14" width="36" height="28" rx="2"/><rect class="m5" x="1960.3" y="-14" width="21.3" height="28" rx="2"/></g>
<g id="motif-CmoBES1-2" transform="translate(0,447)"><line class="ml" x1="1796.6" x2="2008"/><rect class="m1" x="1814.4" y="-14" width="34.3" height="28" rx="2"/><rect class="m5" x="1856.3" y="-14" width="20.7" height="28" rx="2"/></g>
<g id="motif-CargBES1-1" transform="translate(0,488.5)"><line class="ml" x1="1796.6" x2="2008"/><rect class="m1" x="1814.4" y="-14" width="34.3" height="28" rx="2"/><rect class="m5" x="1856.3" y="-14" width="20.7" height="28" rx="2"/></g>
<g id="motif-CmoBES1-1" transform="translate(0,530)"><line class="ml" x1="1796.6" x2="2068"/><rect class="m1" x="1874.3" y="-14" width="33.2" height="28" rx="2"/><rect class="m5" x="1915" y="-14" width="19.2" height="28" rx="2"/></g>
<g id="motif-CsBES1-2" transform="translate(0,571.5)"><line class="ml" x1="1796.6" x2="2010.5"/><rect class="m1" x="1814.4" y="-14" width="34.3" height="28" rx="2"/><rect class="m5" x="1856.3" y="-14" width="20.7" height="28" rx="2"/></g>
<g id="motif-CmBES1-1" transform="translate(0,613)"><line class="ml" x1="1796.6" x2="2033"/><rect class="m1" x="1837.8" y="-14" width="34.9" height="28" rx="2"/><rect class="m5" x="1879.7" y="-14" width="20.2" height="28" rx="2"/></g>
<g id="motif-LsiBES1-1" transform="translate(0,654.5)"><line class="ml" x1="1796.6" x2="2010.5"/><rect class="m1" x="1814.4" y="-14" width="34.3" height="28" rx="2"/><rect class="m5" x="1856.3" y="-14" width="20.7" height="28" rx="2"/></g>
<g id="motif-ClBES1-1" transform="translate(0,696)"><line class="ml" x1="1796.6" x2="2010.5"/><rect class="m1" x="1814.4" y="-14" width="34.3" height="28" rx="2"/><rect class="m5" x="1856.3" y="-14" width="20.7" height="28" rx="2"/></g>
<g id="motif-CsBES1-1" transform="translate(0,737.5)"><line class="ml" x1="1796.6" x2="2021"/><rect class="m1" x="1809" y="-14" width="34.3" height="28" rx="2"/><rect class="m5" x="1850.4" y="-14" width="20.6" height="28" rx="2"/></g>
<g id="motif-CmBES1-3" transform="translate(0,779)"><line class="ml" x1="1796.6" x2="2046"/><rect class="m1" x="1836" y="-14" width="33" height="28" rx="2"/><rect class="m5" x="1877.7" y="-14" width="18.2" height="28" rx="2"/></g>
<g id="motif-LsiBES1-3" transform="translate(0,820.5)"><line class="ml" x1="1796.6" x2="2057.6"/><rect class="m1" x="1809" y="-14" width="34.3" height="28" rx="2"/><rect class="m5" x="1886.8" y="-14" width="20.5" height="28" rx="2"/></g>
<g id="motif-ClBES1-3" transform="translate(0,862)"><line class="ml" x1="1796.6" x2="2024.4"/><rect class="m1" x="1809" y="-14" width="34.3" height="28" rx="2"/><rect class="m5" x="1850.4" y="-14" width="20.6" height="28" rx="2"/></g>
<g id="motif-CargBES1-5" transform="translate(0,903.5)"><line class="ml" x1="1796.6" x2="2030"/><rect class="m1" x="1809" y="-14" width="34.3" height="28" rx="2"/><rect class="m5" x="1850.4" y="-14" width="20.6" height="28" rx="2"/></g>
<g id="motif-CmoBES1-5" transform="translate(0,945)"><line class="ml" x1="1796.6" x2="2030"/><rect class="m1" x="1809" y="-14" width="34.3" height="28" rx="2"/><rect class="m5" x="1850.4" y="-14" width="20.6" height="28" rx="2"/></g>
<g id="motif-CargBES1-6" transform="translate(0,986.5)"><line class="ml" x1="1796.6" x2="2019"/><rect class="m1" x="1809" y="-14" width="34.3" height="28" rx="2"/><rect class="m5" x="1850.4" y="-14" width="20.6" height="28" rx="2"/></g>
<g id="motif-CmoBES1-6" transform="translate(0,1028)"><line class="ml" x1="1796.6" x2="2021"/><rect class="m1" x="1809" y="-14" width="34.3" height="28" rx="2"/><rect class="m5" x="1850.4" y="-14" width="20.6" height="28" rx="2"/></g>
<g id="motif-CargBES1-8" transform="translate(0,1069.5)"><line class="ml" x1="1796.6" x2="2019"/><rect class="m1" x="1809" y="-14" width="34.3" height="28" rx="2"/><rect class="m5" x="1852.4" y="-14" width="18.6" height="28" rx="2"/></g>
<g id="motif-CmoBES1-8" transform="translate(0,1111)"><line class="ml" x1="1796.6" x2="2019"/><rect class="m1" x="1809" y="-14" width="34.3" height="28" rx="2"/><rect class="m5" x="1852.4" y="-14" width="18.6" height="28" rx="2"/></g>
<g id="motif-CargBES1-7" transform="translate(0,1152.5)"><line class="ml" x1="1796.6" x2="2021"/><rect class="m1" x="1809" y="-14" width="34.3" height="28" rx="2"/><rect class="m5" x="1852.4" y="-14" width="18.6" height="28" rx="2"/></g>
<g id="motif-CmoBES1-7" transform="translate(0,1194)"><line class="ml" x1="1796.6" x2="2021"/><rect class="m1" x="1809" y="-14" width="34.3" height="28" rx="2"/><rect class="m5" x="1852.4" y="-14" width="18.6" height="28" rx="2"/></g>
<g id="motif-CsBES1-4" transform="translate(0,1235.5)"><line class="ml" x1="1796.6" x2="2019"/><rect class="m1" x="1809" y="-14" width="34.3" height="28" rx="2"/><rect class="m5" x="1852.4" y="-14" width="18.6" height="28" rx="2"/></g>
<g id="motif-CmBES1-4" transform="translate(0,1277)"><line class="ml" x1="1796.6" x2="2019"/><rect class="m1" x="1809" y="-14" width="34.3" height="28" rx="2"/><rect class="m5" x="1852.4" y="-14" width="18.6" height="28" rx="2"/></g>
<g id="motif-LsiBES1-4" transform="translate(0,1318.5)"><line class="ml" x1="1796.6" x2="2032"/><rect class="m1" x="1809" y="-14" width="34.3" height="28" rx="2"/><rect class="m5" x="1852.4" y="-14" width="18.6" height="28" rx="2"/></g>
<g id="motif-ClBES1-4" transform="translate(0,1360)"><line class="ml" x1="1796.6" x2="2019"/><rect class="m1" x="1809" y="-14" width="34.3" height="28" rx="2"/><rect class="m5" x="1852.4" y="-14" width="18.6" height="28" rx="2"/></g>
<g id="motif-CargBES1-9" transform="translate(0,1401.5)"><line class="ml" x1="1796.6" x2="1958"/><rect class="m1" x="1816.4" y="-14" width="32.8" height="28" rx="2"/><rect class="m5" x="1899.4" y="-14" width="20.2" height="28" rx="2"/></g>
<g id="motif-CmoBES1-9" transform="translate(0,1443)"><line class="ml" x1="1796.6" x2="1958"/><rect class="m1" x="1814.4" y="-14" width="34.8" height="28" rx="2"/><rect class="m5" x="1857.5" y="-14" width="18.6" height="28" rx="2"/><rect class="m5" x="1897.4" y="-14" width="21" height="28" rx="2"/></g>
<g id="motif-CsBES1-3" transform="translate(0,1484.5)"><line class="ml" x1="1796.6" x2="2255.7"/><rect class="m1" x="1849.2" y="-14" width="34.4" height="28" rx="2"/><rect class="m3" x="1978.5" y="-14" width="34.8" height="28" rx="2"/><rect class="m2" x="2027.9" y="-14" width="34.8" height="28" rx="2"/><rect class="m4" x="2101.5" y="-14" width="35.2" height="28" rx="2"/><rect class="m5" x="2155.6" y="-14" width="18.6" height="28" rx="2"/></g>
<g id="motif-CmBES1-6" transform="translate(0,1526)"><line class="ml" x1="1796.6" x2="2254.5"/><rect class="m1" x="1849.2" y="-14" width="34.4" height="28" rx="2"/><rect class="m3" x="1978.5" y="-14" width="34" height="28" rx="2"/><rect class="m2" x="2027.9" y="-14" width="34.8" height="28" rx="2"/><rect class="m4" x="2101.5" y="-14" width="33.6" height="28" rx="2"/><rect class="m5" x="2154.4" y="-14" width="19.8" height="28" rx="2"/></g>
<g id="motif-ClBES1-6" transform="translate(0,1567.5)"><line class="ml" x1="1796.6" x2="2255.7"/><rect class="m1" x="1849.2" y="-14" width="34.4" height="28" rx="2"/><rect class="m3" x="1978.5" y="-14" width="34.8" height="28" rx="2"/><rect class="m2" x="2027.9" y="-14" width="34.8" height="28" rx="2"/><rect class="m4" x="2101.5" y="-14" width="35.2" height="28" rx="2"/><rect class="m5" x="2155.6" y="-14" width="18.6" height="28" rx="2"/></g>
<g id="motif-LsiBES1-6" transform="translate(0,1609)"><line class="ml" x1="1796.6" x2="2292.9"/><rect class="m1" x="1849.2" y="-14" width="34.4" height="28" rx="2"/><rect class="m3" x="1978.5" y="-14" width="34" height="28" rx="2"/><rect class="m2" x="2027.9" y="-14" width="34.8" height="28" rx="2"/><rect class="m4" x="2101.5" y="-14" width="33.6" height="28" rx="2"/><rect class="m5" x="2154.4" y="-14" width="19.8" height="28" rx="2"/></g>
<g id="motif-CargBES1-13" transform="translate(0,1650.5)"><line class="ml" x1="1796.6" x2="2267.1"/><rect class="m1" x="1849.2" y="-14" width="34.4" height="28" rx="2"/><rect class="m3" x="1978.5" y="-14" width="34" height="28" rx="2"/><rect class="m2" x="2027.9" y="-14" width="34.8" height="28" rx="2"/><rect class="m4" x="2112.9" y="-14" width="34.8" height="28" rx="2"/><rect class="m5" x="2166.7" y="-14" width="20.6" height="28" rx="2"/></g>
<g id="motif-CmoBES1-13" transform="translate(0,1692)"><line class="ml" x1="1796.6" x2="2265.2"/><rect class="m1" x="1849.2" y="-14" width="34.4" height="28" rx="2"/><rect class="m3" x="1978.5" y="-14" width="34" height="28" rx="2"/><rect class="m2" x="2027.9" y="-14" width="34.8" height="28" rx="2"/><rect class="m4" x="2111" y="-14" width="34.8" height="28" rx="2"/><rect class="m5" x="2164.7" y="-14" width="20.6" height="28" rx="2"/></g>
<g id="motif-CargBES1-12" transform="translate(0,1733.5)"><line class="ml" x1="1796.6" x2="2255.7"/><rect class="m1" x="1849.2" y="-14" width="34.4" height="28" rx="2"/><rect class="m3" x="1978.5" y="-14" width="34.8" height="28" rx="2"/><rect class="m2" x="2027.9" y="-14" width="34.8" height="28" rx="2"/><rect class="m4" x="2101.5" y="-14" width="34.4" height="28" rx="2"/><rect class="m5" x="2155.6" y="-14" width="18.6" height="28" rx="2"/></g>
<g id="motif-CmoBES1-12" transform="translate(0,1775)"><line class="ml" x1="1796.6" x2="2255.7"/><rect class="m1" x="1849.2" y="-14" width="34.4" height="28" rx="2"/><rect class="m3" x="1978.5" y="-14" width="34.8" height="28" rx="2"/><rect class="m2" x="2027.9" y="-14" width="34.8" height="28" rx="2"/><rect class="m4" x="2101.5" y="-14" width="34.4" height="28" rx="2"/><rect class="m5" x="2155.6" y="-14" width="18.6" height="28" rx="2"/></g>
<g id="motif-CargBES1-11" transform="translate(0,1816.5)"><line class="ml" x1="1796.6" x2="2276.2"/><rect class="m1" x="1857.9" y="-14" width="34.8" height="28" rx="2"/><rect class="m5" x="1899.4" y="-14" width="20.2" height="28" rx="2"/><rect class="m3" x="1998.7" y="-14" width="33.2" height="28" rx="2"/><rect class="m2" x="2047.7" y="-14" width="34.8" height="28" rx="2"/><rect class="m4" x="2121.2" y="-14" width="33.6" height="28" rx="2"/><rect class="m5" x="2174.2" y="-14" width="21" height="28" rx="2"/></g>
<g id="motif-CmoBES1-11" transform="translate(0,1858)"><line class="ml" x1="1796.6" x2="2276.2"/><rect class="m1" x="1857.9" y="-14" width="34.8" height="28" rx="2"/><rect class="m5" x="1899.4" y="-14" width="20.2" height="28" rx="2"/><rect class="m3" x="1998.7" y="-14" width="33.2" height="28" rx="2"/><rect class="m2" x="2047.7" y="-14" width="34.8" height="28" rx="2"/><rect class="m4" x="2121.2" y="-14" width="33.6" height="28" rx="2"/><rect class="m5" x="2174.2" y="-14" width="21" height="28" rx="2"/></g>
<g id="motif-CargBES1-10" transform="translate(0,1899.5)"><line class="ml" x1="1796.6" x2="2290.9"/><rect class="m1" x="1857.9" y="-14" width="34.8" height="28" rx="2"/><rect class="m5" x="1899.4" y="-14" width="20.2" height="28" rx="2"/><rect class="m3" x="1998.7" y="-14" width="33.2" height="28" rx="2"/><rect class="m2" x="2047.7" y="-14" width="34.8" height="28" rx="2"/><rect class="m4" x="2121.2" y="-14" width="33.6" height="28" rx="2"/><rect class="m5" x="2187.3" y="-14" width="18.6" height="28" rx="2"/></g>
<g id="motif-CmoBES1-10" transform="translate(0,1941)"><line class="ml" x1="1796.6" x2="2276.2"/><rect class="m1" x="1857.9" y="-14" width="34.8" height="28" rx="2"/><rect class="m5" x="1899.4" y="-14" width="20.2" height="28" rx="2"/><rect class="m3" x="1998.7" y="-14" width="33.2" height="28" rx="2"/><rect class="m2" x="2047.7" y="-14" width="34.8" height="28" rx="2"/><rect class="m4" x="2121.2" y="-14" width="33.6" height="28" rx="2"/><rect class="m5" x="2174.2" y="-14" width="21" height="28" rx="2"/></g>
<g id="motif-CsBES1-5" transform="translate(0,1982.5)"><line class="ml" x1="1796.6" x2="2276.2"/><rect class="m1" x="1857.9" y="-14" width="34.8" height="28" rx="2"/><rect class="m5" x="1899.4" y="-14" width="20.2" height="28" rx="2"/><rect class="m3" x="1998.7" y="-14" width="33.2" height="28" rx="2"/><rect class="m2" x="2047.7" y="-14" width="34.8" height="28" rx="2"/><rect class="m4" x="2121.2" y="-14" width="33.6" height="28" rx="2"/><rect class="m5" x="2174.2" y="-14" width="21" height="28" rx="2"/></g>
<g id="motif-CmBES1-5" transform="translate(0,2024)"><line class="ml" x1="1796.6" x2="2276.2"/><rect class="m1" x="1857.9" y="-14" width="34.8" height="28" rx="2"/><rect class="m5" x="1899.4" y="-14" width="20.2" height="28" rx="2"/><rect class="m3" x="1998.7" y="-14" width="33.2" height="28" rx="2"/><rect class="m2" x="2047.7" y="-14" width="34.8" height="28" rx="2"/><rect class="m4" x="2121.2" y="-14" width="33.6" height="28" rx="2"/><rect class="m5" x="2174.2" y="-14" width="21" height="28" rx="2"/></g>
<g id="motif-LsiBES1-5" transform="translate(0,2065.5)"><line class="ml" x1="1796.6" x2="2346.2"/><rect class="m1" x="1889.9" y="-14" width="35.2" height="28" rx="2"/><rect class="m5" x="1930.3" y="-14" width="20.5" height="28" rx="2"/><rect class="m3" x="2029.9" y="-14" width="34" height="28" rx="2"/><rect class="m2" x="2080.5" y="-14" width="32.4" height="28" rx="2"/><rect class="m4" x="2152.5" y="-14" width="34.8" height="28" rx="2"/><rect class="m5" x="2207" y="-14" width="19.8" height="28" rx="2"/></g>
<g id="motif-ClBES1-5" transform="translate(0,2107)"><line class="ml" x1="1796.6" x2="2276.2"/><rect class="m1" x="1857.9" y="-14" width="34.8" height="28" rx="2"/><rect class="m5" x="1899.4" y="-14" width="20.2" height="28" rx="2"/><rect class="m3" x="1998.7" y="-14" width="33.2" height="28" rx="2"/><rect class="m2" x="2047.7" y="-14" width="34.8" height="28" rx="2"/><rect class="m4" x="2121.2" y="-14" width="33.6" height="28" rx="2"/><rect class="m5" x="2174.2" y="-14" width="21" height="28" rx="2"/></g>
</g>

<g id="motif-legend">
<rect class="m6" x="2350" y="68" width="81" height="39"/>
<rect class="m1" x="2350" y="110" width="81" height="39"/>
<rect class="m5" x="2350" y="152" width="81" height="39"/>
<rect class="m3" x="2350" y="194" width="81" height="39"/>
<rect class="m2" x="2350" y="236.5" width="81" height="39"/>
<rect class="m4" x="2350" y="278.5" width="81" height="38"/>
<text class="lg" x="2441" y="94">Motif 6</text>
<text class="lg" x="2441" y="134">Motif 1</text>
<text class="lg" x="2441" y="176">Motif 5</text>
<text class="lg" x="2441" y="218">Motif 3</text>
<text class="lg" x="2441" y="260">Motif 2</text>
<text class="lg" x="2441" y="302">Motif 4</text>
</g>

<g id="motif-axis">
<path class="axl" d="M1796.6 2150.4H2345.4 M1796.6 2150.4V2159 M1933.8 2150.4V2159 M2071 2150.4V2159 M2208.2 2150.4V2159 M2345.4 2150.4V2159"/>
<text class="ax" x="1794" y="2152" style="text-anchor:end;font-size:26px">5'</text>
<text class="ax" x="2349" y="2151.5" style="text-anchor:start;font-size:26px">3'</text>
<text class="ax" x="1796.6" y="2185">0</text>
<text class="ax" x="1932" y="2185">200</text>
<text class="ax" x="2069" y="2185">400</text>
<text class="ax" x="2206" y="2185">600</text>
<text class="ax" x="2352" y="2177">800</text>
</g>
</svg>
